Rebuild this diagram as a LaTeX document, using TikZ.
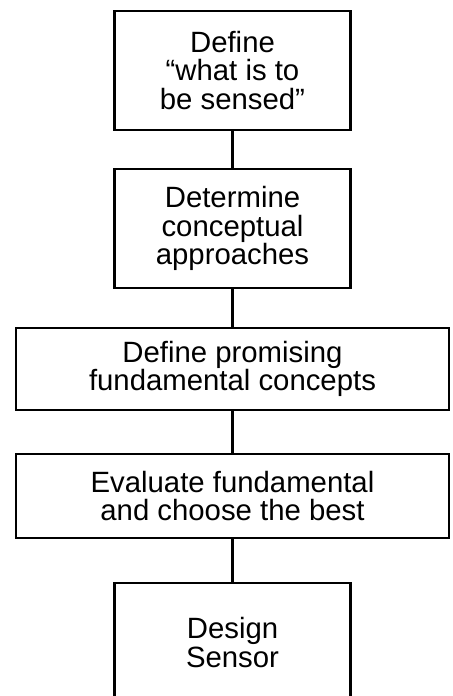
\documentclass[tikz,border=0pt]{standalone}
\usepackage{fontspec}
\setmainfont{Liberation Sans}
\usetikzlibrary{positioning}

\begin{document}
\begin{tikzpicture}[
  x=0.75pt, y=-0.75pt,
  stepbox/.style={draw, line width=1.6pt, align=center, inner sep=0pt,
    font=\fontsize{22}{21.5}\selectfont},
  narrowbox/.style={stepbox, minimum width=177pt, minimum height=89.25pt},
  widebox/.style={stepbox, minimum width=324.75pt},
  link/.style={line width=1.6pt}
]
\useasboundingbox (0,0) rectangle (453,696);
\clip (0,0) rectangle (453,696);
\node[narrowbox] (define) at (232.5,70.5) {Define\\“what is to\\be sensed”};
\node[narrowbox] (determine) at (232.5,228.5) {Determine\\conceptual\\approaches};
\node[widebox, minimum height=61.5pt] (promising) at (232.5,369) {Define promising\\fundamental concepts};
\node[widebox, minimum height=63pt] (evaluate) at (232.5,496) {Evaluate fundamental\\and choose the best};
\node[narrowbox] (design) at (232.5,642.5) {Design\\Sensor};
\draw[link] (define) -- (determine);
\draw[link] (determine) -- (promising);
\draw[link] (promising) -- (evaluate);
\draw[link] (evaluate) -- (design);
\end{tikzpicture}
\end{document}
